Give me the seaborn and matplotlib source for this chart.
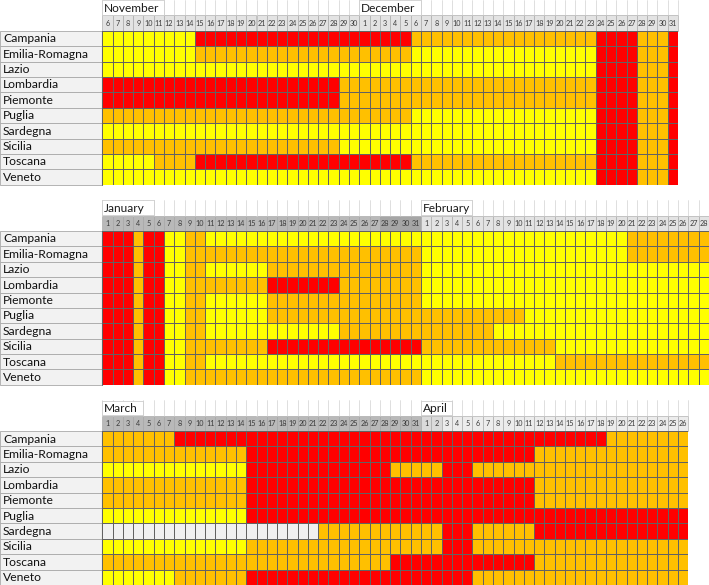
"""
Zone colorate per regione, novembre 2020 - aprile 2021
"""

import numpy as np
import pandas as pd
import matplotlib
matplotlib.use('Agg')
import matplotlib.pyplot as plt
from matplotlib.colors import ListedColormap
from matplotlib.patches import Rectangle
import seaborn as sns

sns.set_style('white')
plt.rcParams['font.family'] = ['Lato', 'DejaVu Sans']

regions = ['Campania', 'Emilia-Romagna', 'Lazio', 'Lombardia', 'Piemonte',
           'Puglia', 'Sardegna', 'Sicilia', 'Toscana', 'Veneto']

# one string per region, one letter per day: W white, Y yellow, O orange, R red
# (spaces only group the days for readability)
nov = [  # 6 .. 30
    'YYYYY YYYY RRRRRRR RRRRRRR RR',
    'YYYYY YYYY OOOOOOO OOOOOOO OO',
    'YYYYY YYYY YYYYYYY YYYYYYY YY',
    'RRRRR RRRR RRRRRRR RRRRRRR OO',
    'RRRRR RRRR RRRRRRR RRRRRRR OO',
    'OOOOO OOOO OOOOOOO OOOOOOO OO',
    'YYYYY YYYY YYYYYYY YYYYYYY YY',
    'OOOOO OOOO OOOOOOO OOOOOOO YY',
    'YYYYY OOOO RRRRRRR RRRRRRR RR',
    'YYYYY YYYY YYYYYYY YYYYYYY YY',
]
dec = [  # 1 .. 31
    'RRRRR OOOOOOO OOOOOOO OOOO RRRR OOO R',
    'OOOOO YYYYYYY YYYYYYY YYYY RRRR OOO R',
    'YYYYY YYYYYYY YYYYYYY YYYY RRRR OOO R',
    'OOOOO OOOOOOO OOOOOOO OOOO RRRR OOO R',
    'OOOOO OOOOOOO OOOOOOO OOOO RRRR OOO R',
    'OOOOO YYYYYYY YYYYYYY YYYY RRRR OOO R',
    'YYYYY YYYYYYY YYYYYYY YYYY RRRR OOO R',
    'YYYYY YYYYYYY YYYYYYY YYYY RRRR OOO R',
    'RRRRR OOOOOOO OOOOOOO OOOO RRRR OOO R',
    'YYYYY YYYYYYY YYYYYYY YYYY RRRR OOO R',
]
jan = [  # 1 .. 31
    'RRR O RR YY OO YYYYYY YYYYYYY YYYYYYYY',
    'RRR O RR YY OO OOOOOO OOOOOOO OOOOOOOO',
    'RRR O RR YY OO YYYYYY OOOOOOO OOOOOOOO',
    'RRR O RR YY OO OOOOOO RRRRRRR OOOOOOOO',
    'RRR O RR YY OO YYYYYY OOOOOOO OOOOOOOO',
    'RRR O RR YY OO YYYYYY OOOOOOO OOOOOOOO',
    'RRR O RR YY OO YYYYYY YYYYYYY OOOOOOOO',
    'RRR O RR YY OO OOOOOO RRRRRRR RRRRRRRR',
    'RRR O RR YY OO YYYYYY YYYYYYY YYYYYYYY',
    'RRR O RR YY OO OOOOOO OOOOOOO OOOOOOOO',
]
feb = [  # 1 .. 28
    'YYYYYYY YYY YYY YYYYYYY OOOOOOOO',
    'YYYYYYY YYY YYY YYYYYYY OOOOOOOO',
    'YYYYYYY YYY YYY YYYYYYY YYYYYYYY',
    'YYYYYYY YYY YYY YYYYYYY YYYYYYYY',
    'YYYYYYY YYY YYY YYYYYYY YYYYYYYY',
    'OOOOOOO OOO YYY YYYYYYY YYYYYYYY',
    'OOOOOOO YYY YYY YYYYYYY YYYYYYYY',
    'OOOOOOO OOO OOO YYYYYYY YYYYYYYY',
    'YYYYYYY YYY YYY OOOOOOO OOOOOOOO',
    'YYYYYYY YYY YYY YYYYYYY YYYYYYYY',
]
mar = [  # 1 .. 31
    'OOOOOOO RRRRRRR RRRRRRR RRRRRRR RRR',
    'OOOOOOO OOOOOOO RRRRRRR RRRRRRR RRR',
    'YYYYYYY YYYYYYY RRRRRRR RRRRRRR OOO',
    'OOOOOOO OOOOOOO RRRRRRR RRRRRRR RRR',
    'OOOOOOO OOOOOOO RRRRRRR RRRRRRR RRR',
    'YYYYYYY YYYYYYY RRRRRRR RRRRRRR RRR',
    'WWWWWWW WWWWWWW WWWWWWW OOOOOOO OOO',
    'YYYYYYY YYYYYYY OOOOOOO OOOOOOO OOO',
    'OOOOOOO OOOOOOO OOOOOOO OOOOOOO RRR',
    'YYYYYYY OOOOOOO RRRRRRR RRRRRRR RRR',
]
apr = [  # 1 .. 26
    'RR RRR RRRRRR RRRRRRR OOOOOOOO',
    'RR RRR RRRRRR OOOOOOO OOOOOOOO',
    'OO RRR OOOOOO OOOOOOO OOOOOOOO',
    'RR RRR RRRRRR OOOOOOO OOOOOOOO',
    'RR RRR RRRRRR OOOOOOO OOOOOOOO',
    'RR RRR RRRRRR RRRRRRR RRRRRRRR',
    'OO RRR OOOOOO RRRRRRR RRRRRRRR',
    'OO RRR OOOOOO OOOOOOO OOOOOOOO',
    'RR RRR RRRRRR OOOOOOO OOOOOOOO',
    'RR RRR OOOOOO OOOOOOO OOOOOOOO',
]

nov_days = list(range(6, 31))
dec_days = list(range(1, 32))
jan_days = list(range(1, 32))
feb_days = list(range(1, 29))
mar_days = list(range(1, 32))
apr_days = list(range(1, 27))

panels = [
    [('November', nov, nov_days), ('December', dec, dec_days)],
    [('January', jan, jan_days), ('February', feb, feb_days)],
    [('March', mar, mar_days), ('April', apr, apr_days)],
]

code = {'W': 0, 'Y': 1, 'O': 2, 'R': 3}
cmap = ListedColormap(['#f0f0f0', '#ffff00', '#ffc000', '#ff0000'])
head_fill = {'November': '#e3e3e3', 'December': '#e3e3e3', 'January': '#b9b9b9',
             'February': '#e3e3e3', 'March': '#b9b9b9', 'April': '#ececec'}

W, H = 709, 585
rh = H / 38.0
cw = 10.28
x0 = 102.3

fig = plt.figure(figsize=(W / 100, H / 100), dpi=100)
fig.patch.set_facecolor('white')
over = fig.add_axes([0, 0, 1, 1])
over.set_xlim(0, W)
over.set_ylim(H, 0)
over.axis('off')
renderer = fig.canvas.get_renderer()

for p, months in enumerate(panels):
    top = 13 * p * rh
    rows = []
    for i in range(len(regions)):
        s = ''.join(m[1][i] for m in months).replace(' ', '')
        rows.append([code[c] for c in s])
    cols = [f'{m[0]} {d}' for m in months for d in m[2]]
    df = pd.DataFrame(rows, index=regions, columns=cols)
    ncol = df.shape[1]

    ax = fig.add_axes([x0 / W, 1 - (top + 12 * rh) / H, ncol * cw / W, 10 * rh / H])
    sns.heatmap(df, cmap=cmap, vmin=-0.5, vmax=3.5, cbar=False,
                linewidths=0.4, linecolor='#626262',
                xticklabels=False, yticklabels=False, ax=ax)
    ax.set_xlabel('')
    ax.set_ylabel('')

    # month row: grid lines
    for c in range(ncol + 1):
        over.plot([x0 + c * cw] * 2, [top, top + rh], color='#d2d2d2', lw=0.5)

    # day row + month names
    c = 0
    for name, _, days in months:
        start = c
        for d in days:
            fill = head_fill[name]
            if name == 'April' and d <= 2:
                fill = '#dadada'
            if name == 'January' and d >= 28:
                fill = '#a6a6a6'
            over.add_patch(Rectangle((x0 + c * cw, top + rh), cw, rh,
                                     facecolor=fill, edgecolor='#a0a0a0', lw=0.4))
            over.text(x0 + c * cw + cw / 2, top + 1.5 * rh + 0.5, str(d),
                      ha='center', va='center', fontsize=5.2, color='#3a3a3a')
            c += 1
        t = over.text(x0 + start * cw + 2, top + rh / 2 + 0.5, name,
                      ha='left', va='center', fontsize=8.6, color='#1a1a1a', zorder=5)
        wpx = t.get_window_extent(renderer).width
        ncov = int(np.ceil((wpx + 4) / cw))
        over.add_patch(Rectangle((x0 + start * cw, top + 0.3), ncov * cw, rh - 0.6,
                                 facecolor='white', edgecolor='#c4c4c4', lw=0.5, zorder=4))

    # region label column
    for i, reg in enumerate(regions):
        y = top + (2 + i) * rh
        over.add_patch(Rectangle((0, y), x0, rh, facecolor='#f2f2f2',
                                 edgecolor='#a8a8a8', lw=0.6))
        over.text(3, y + rh / 2 + 0.3, reg, ha='left', va='center',
                  fontsize=8.7, color='#111111')
    over.plot([x0, x0], [top + 2 * rh, top + 12 * rh], color='#707070', lw=0.8)

plt.savefig('out.png', dpi=100)
plt.close()
